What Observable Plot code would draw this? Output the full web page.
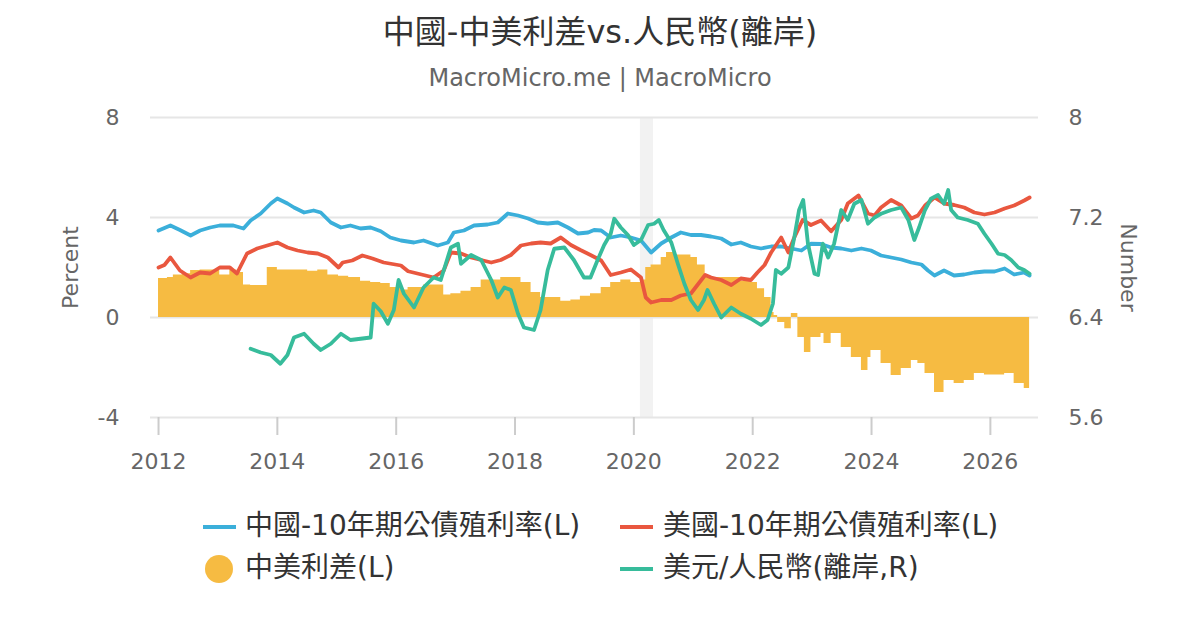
<!DOCTYPE html>
<html>
<head>
<meta charset="utf-8">
<script src="https://cdn.jsdelivr.net/npm/d3@7"></script>
<script src="https://cdn.jsdelivr.net/npm/@observablehq/plot@0.6"></script>
<style>
  html, body { margin: 0; padding: 0; background: #fff; }
  #page { position: relative; width: 1200px; height: 630px; overflow: hidden; font-family: "DejaVu Sans", "Noto Sans CJK TC", sans-serif; }
  #title { position: absolute; top: 12px; left: 0; width: 1200px; text-align: center; font-size: 32px; color: #333; line-height: 40px; }
  #subtitle { position: absolute; top: 63px; left: 0; width: 1200px; text-align: center; font-size: 24px; color: #666; line-height: 30px; }
  #chart { position: absolute; top: 100px; left: 0; }
  .leg { position: absolute; font-size: 28px; color: #333; line-height: 36px; white-space: nowrap; }
  .sw { position: absolute; }
</style>
</head>
<body>
<div id="page">
  <div id="title">中國-中美利差vs.人民幣(離岸)</div>
  <div id="subtitle">MacroMicro.me | MacroMicro</div>
  <div id="chart"></div>
  <div id="legend"></div>
</div>
<script>
// ---- data (decimal years) ----
const cnT = [2012.00,2012.20,2012.36,2012.54,2012.70,2012.87,2013.03,2013.26,2013.43,2013.55,2013.72,2013.89,2014.00,2014.17,2014.28,2014.45,2014.61,2014.73,2014.90,2015.07,2015.23,2015.40,2015.57,2015.74,2015.90,2016.08,2016.30,2016.46,2016.70,2016.87,2016.97,2017.14,2017.31,2017.54,2017.71,2017.88,2018.05,2018.22,2018.38,2018.55,2018.72,2018.89,2019.06,2019.23,2019.33,2019.45,2019.61,2019.78,2019.95,2020.12,2020.29,2020.46,2020.63,2020.79,2020.96,2021.13,2021.30,2021.47,2021.64,2021.80,2021.97,2022.14,2022.31,2022.48,2022.65,2022.82,2022.98,2023.15,2023.32,2023.49,2023.66,2023.83,2023.99,2024.16,2024.33,2024.50,2024.67,2024.84,2024.95,2025.06,2025.22,2025.39,2025.56,2025.73,2025.90,2026.07,2026.24,2026.40,2026.57,2026.66];
const cnYield = [3.48,3.68,3.50,3.28,3.48,3.60,3.68,3.68,3.56,3.88,4.16,4.56,4.76,4.56,4.40,4.20,4.28,4.20,3.80,3.60,3.68,3.56,3.60,3.45,3.20,3.08,3.00,3.08,2.88,3.00,3.40,3.48,3.68,3.72,3.80,4.16,4.08,3.96,3.80,3.76,3.80,3.60,3.36,3.40,3.50,3.48,3.20,3.28,3.20,3.08,2.60,2.96,3.20,3.40,3.30,3.30,3.24,3.16,2.92,3.00,2.84,2.76,2.84,2.84,2.76,2.68,2.95,2.94,2.80,2.76,2.68,2.76,2.68,2.48,2.40,2.32,2.20,2.12,1.88,1.68,1.88,1.68,1.72,1.80,1.84,1.84,1.96,1.72,1.80,1.68];

const usT = [2012.00,2012.10,2012.20,2012.36,2012.54,2012.70,2012.87,2013.03,2013.20,2013.32,2013.49,2013.66,2013.83,2014.00,2014.17,2014.34,2014.51,2014.68,2014.85,2015.03,2015.10,2015.26,2015.43,2015.60,2015.79,2016.08,2016.20,2016.46,2016.63,2016.80,2016.92,2017.09,2017.26,2017.43,2017.60,2017.76,2017.93,2018.10,2018.27,2018.43,2018.60,2018.77,2018.94,2019.10,2019.27,2019.45,2019.61,2019.78,2019.95,2020.12,2020.20,2020.29,2020.46,2020.63,2020.79,2020.96,2021.07,2021.20,2021.30,2021.47,2021.64,2021.80,2021.97,2022.08,2022.20,2022.31,2022.48,2022.60,2022.70,2022.84,2022.98,2023.15,2023.32,2023.49,2023.60,2023.78,2023.94,2024.05,2024.16,2024.33,2024.50,2024.67,2024.78,2024.90,2025.06,2025.22,2025.39,2025.56,2025.73,2025.90,2026.07,2026.24,2026.40,2026.57,2026.66];
const usYield = [2.00,2.10,2.40,1.88,1.60,1.80,1.76,2.00,2.00,1.76,2.56,2.76,2.88,3.00,2.80,2.68,2.60,2.56,2.40,2.00,2.20,2.28,2.48,2.36,2.20,2.08,1.85,1.70,1.60,1.88,2.60,2.56,2.40,2.30,2.20,2.30,2.50,2.88,2.96,3.00,2.96,3.20,2.90,2.70,2.50,2.28,1.70,1.80,1.92,1.60,0.80,0.60,0.70,0.70,0.88,0.96,1.30,1.70,1.60,1.50,1.30,1.56,1.50,1.80,2.10,2.60,3.20,2.60,3.20,3.90,3.70,3.88,3.45,3.90,4.56,4.88,4.16,4.08,4.40,4.70,4.48,3.96,4.08,4.48,4.80,4.56,4.50,4.40,4.20,4.12,4.20,4.36,4.48,4.68,4.80];

const fxT = [2013.55,2013.72,2013.89,2014.05,2014.17,2014.28,2014.45,2014.61,2014.73,2014.90,2015.07,2015.23,2015.40,2015.57,2015.62,2015.74,2015.86,2015.96,2016.04,2016.13,2016.30,2016.46,2016.63,2016.75,2016.92,2017.04,2017.09,2017.26,2017.43,2017.60,2017.71,2017.82,2017.93,2018.05,2018.15,2018.32,2018.43,2018.55,2018.66,2018.83,2018.99,2019.16,2019.27,2019.39,2019.50,2019.61,2019.67,2019.78,2019.90,2020.00,2020.12,2020.24,2020.34,2020.42,2020.50,2020.63,2020.74,2020.85,2020.96,2021.08,2021.18,2021.24,2021.35,2021.47,2021.64,2021.80,2021.97,2022.14,2022.25,2022.34,2022.39,2022.48,2022.60,2022.70,2022.78,2022.85,2022.93,2023.04,2023.10,2023.18,2023.27,2023.37,2023.49,2023.60,2023.71,2023.83,2023.94,2024.05,2024.16,2024.33,2024.50,2024.62,2024.72,2024.80,2024.90,2025.00,2025.12,2025.22,2025.29,2025.34,2025.45,2025.62,2025.79,2025.90,2026.02,2026.13,2026.24,2026.35,2026.47,2026.57,2026.66];
const usdcnh = [6.15,6.12,6.10,6.03,6.10,6.24,6.27,6.19,6.14,6.19,6.27,6.22,6.23,6.24,6.51,6.45,6.35,6.46,6.70,6.59,6.48,6.64,6.72,6.70,6.96,6.99,6.83,6.90,6.86,6.70,6.56,6.64,6.62,6.43,6.32,6.30,6.46,6.78,6.95,6.96,6.86,6.72,6.72,6.86,6.98,7.07,7.19,7.12,7.06,6.98,7.02,7.14,7.15,7.18,7.10,7.00,6.83,6.67,6.54,6.46,6.54,6.62,6.51,6.40,6.48,6.43,6.39,6.34,6.38,6.51,6.78,6.75,6.80,7.04,7.26,7.34,6.99,6.75,6.74,6.99,6.88,6.99,7.26,7.18,7.31,7.34,7.15,7.20,7.23,7.26,7.28,7.18,7.02,7.12,7.26,7.35,7.38,7.31,7.42,7.26,7.20,7.18,7.15,7.07,6.99,6.91,6.90,6.86,6.80,6.78,6.75];

const spT = [2012.00,2012.15,2012.25,2012.40,2012.54,2012.70,2012.87,2013.03,2013.20,2013.32,2013.43,2013.55,2013.72,2013.83,2014.00,2014.17,2014.34,2014.51,2014.68,2014.85,2015.03,2015.20,2015.40,2015.57,2015.74,2015.90,2016.08,2016.20,2016.46,2016.63,2016.80,2016.92,2017.09,2017.26,2017.43,2017.60,2017.76,2017.93,2018.10,2018.27,2018.43,2018.60,2018.77,2018.94,2019.10,2019.27,2019.45,2019.61,2019.78,2019.95,2020.12,2020.20,2020.29,2020.46,2020.55,2020.70,2020.96,2021.07,2021.20,2021.47,2021.64,2021.80,2021.97,2022.08,2022.20,2022.31,2022.36,2022.42,2022.54,2022.65,2022.76,2022.87,2022.98,2023.15,2023.20,2023.32,2023.49,2023.66,2023.83,2023.94,2023.99,2024.16,2024.33,2024.50,2024.67,2024.78,2024.90,2025.06,2025.22,2025.39,2025.56,2025.73,2025.90,2026.07,2026.24,2026.40,2026.57,2026.66];
const spread = [1.56,1.60,1.70,1.75,1.88,1.90,1.90,1.70,1.90,1.80,1.30,1.28,1.28,2.00,1.90,1.90,1.90,1.85,1.90,1.70,1.65,1.60,1.45,1.40,1.36,1.20,1.10,1.20,1.30,1.30,0.90,0.95,1.05,1.20,1.50,1.50,1.60,1.60,1.40,1.00,0.80,0.80,0.65,0.70,0.85,0.95,1.20,1.40,1.50,1.40,1.50,2.00,2.10,2.40,2.60,2.50,2.40,2.10,1.60,1.60,1.60,1.45,1.40,1.15,0.80,0.20,0.08,-0.20,-0.45,0.16,-0.80,-1.40,-0.80,-0.64,-1.04,-0.64,-1.20,-1.60,-2.12,-1.60,-1.32,-1.84,-2.32,-2.04,-1.72,-1.84,-2.24,-3.00,-2.52,-2.64,-2.52,-2.24,-2.30,-2.30,-2.24,-2.64,-2.84,-3.00];

const shadeStart = [2020.11];
const shadeEnd = [2020.33];

const xTicks = [2012, 2014, 2016, 2018, 2020, 2022, 2024, 2026];
const yTicks = [-4, 0, 4, 8];
const leftTickLabels = ["-4", "0", "4", "8"];
const rightTickLabels = ["5.6", "6.4", "7.2", "8"];
const axisTitles = ["Percent", "Number"];

const seriesNames = ["中國-10年期公債殖利率(L)", "美國-10年期公債殖利率(L)", "中美利差(L)", "美元/人民幣(離岸,R)"];
const colors = ["#3BAFDA", "#E9573F", "#F6BB42", "#37BC9B"];

// ---- tables ----
const cnData = cnT.map((t, i) => ({t, v: cnYield[i]}));
const usData = usT.map((t, i) => ({t, v: usYield[i]}));
const fxData = fxT.map((t, i) => ({t, v: usdcnh[i]}));
const spData = spT.map((t, i) => ({t, v: spread[i]}));
const shade = shadeStart.map((s, i) => ({start: s, end: shadeEnd[i]}));

// right axis (USD/CNH 5.6..8) mapped onto left scale (-4..8)
const toLeft = v => (v - 6.4) * 5;

const chart = Plot.plot({
  width: 1200,
  height: 390,
  marginTop: 17,
  marginBottom: 73,
  marginLeft: 150,
  marginRight: 162,
  x: {type: "linear", domain: [2011.865, 2026.81]},
  y: {domain: [-4, 8]},
  style: {fontFamily: '"DejaVu Sans", "Noto Sans CJK TC", sans-serif', fontSize: "22px", color: "#666", background: "transparent", overflow: "visible"},
  marks: [
    Plot.rect(shade, {x1: "start", x2: "end", fill: "#f2f2f2"}),
    Plot.ruleY(yTicks, {stroke: "#e6e6e6", strokeWidth: 2}),
    Plot.areaY(spData, {x: "t", y: "v", curve: "step-after", fill: colors[2]}),
    Plot.line(cnData, {x: "t", y: "v", stroke: colors[0], strokeWidth: 3.8}),
    Plot.line(usData, {x: "t", y: "v", stroke: colors[1], strokeWidth: 3.8}),
    Plot.line(fxData, {x: "t", y: d => toLeft(d.v), stroke: colors[3], strokeWidth: 3.8}),
    Plot.axisX({ticks: xTicks, tickFormat: d => String(d), tickSize: 18, tickPadding: 18, stroke: "#ccc", strokeWidth: 2, fill: "#666", label: null}),
    Plot.axisY({anchor: "left", ticks: yTicks, tickSize: 0, tickPadding: 31, fill: "#666", tickFormat: d => leftTickLabels[yTicks.indexOf(d)], label: null}),
    Plot.axisY({anchor: "right", ticks: yTicks, tickSize: 0, tickPadding: 30, fill: "#666", tickFormat: d => rightTickLabels[yTicks.indexOf(d)], label: null}),
    Plot.text([axisTitles[0]], {text: d => d, frameAnchor: "left", textAnchor: "middle", dx: -80, rotate: -90, fill: "#666", fontSize: 22}),
    Plot.text([axisTitles[1]], {text: d => d, frameAnchor: "right", textAnchor: "middle", dx: 90, rotate: 90, fill: "#666", fontSize: 22})
  ]
});
document.getElementById("chart").appendChild(chart);

// ---- legend ----
const legend = document.getElementById("legend");
const legPos = [
  {sx: 203, tx: 245, y: 527, kind: "line"},
  {sx: 620, tx: 663, y: 527, kind: "line"},
  {sx: 203, tx: 245, y: 569, kind: "dot"},
  {sx: 620, tx: 663, y: 569, kind: "line"}
];
seriesNames.forEach((name, i) => {
  const p = legPos[i];
  const sw = document.createElement("div");
  sw.className = "sw";
  if (p.kind === "line") {
    Object.assign(sw.style, {left: p.sx + "px", top: (p.y - 2) + "px", width: "33px", height: "4px", background: colors[i]});
  } else {
    Object.assign(sw.style, {left: (p.sx + 2) + "px", top: (p.y - 14) + "px", width: "28px", height: "28px", borderRadius: "50%", background: colors[i]});
  }
  legend.appendChild(sw);
  const tx = document.createElement("div");
  tx.className = "leg";
  tx.textContent = name;
  Object.assign(tx.style, {left: p.tx + "px", top: (p.y - 19) + "px"});
  legend.appendChild(tx);
});
</script>
</body>
</html>
